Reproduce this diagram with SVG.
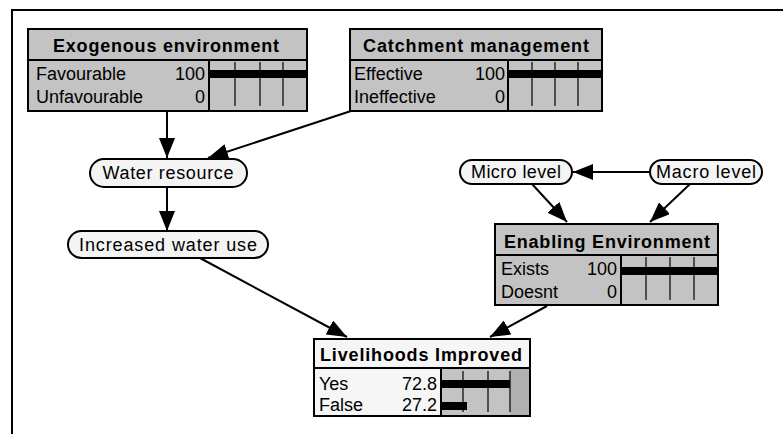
<svg xmlns="http://www.w3.org/2000/svg" width="783" height="434" viewBox="0 0 783 434">
<style>
.box{fill:#c3c3c3;stroke:#000;stroke-width:2}
.wbox{fill:#f6f6f6;stroke:#000;stroke-width:2}
.pill{fill:#f4f4f4;stroke:#000;stroke-width:2}
.hd{font-family:"Liberation Sans",Arial,sans-serif;font-size:18px;font-weight:bold;fill:#000}
.tx{font-family:"Liberation Sans",Arial,sans-serif;font-size:18px;fill:#000}
.bar{fill:#000}
.tick{stroke:#000;stroke-width:1.2}
.sep{stroke:#000;stroke-width:2}
.edge{stroke:#000;stroke-width:2;fill:none;marker-end:url(#ah)}
</style>
<defs>
<marker id="ah" viewBox="0 0 20 16" refX="20" refY="8" markerWidth="20" markerHeight="16" markerUnits="userSpaceOnUse" orient="auto">
<path d="M0,0 L20,8 L0,16 Z" fill="#000"/>
</marker>
</defs>
<rect width="783" height="434" fill="#fff"/>
<path d="M12,434 V10 H783" fill="none" stroke="#000" stroke-width="2"/>

<g id="connectors">
<line class="edge" x1="167" y1="111" x2="167" y2="158"/>
<line class="edge" x1="351" y1="111" x2="208" y2="158"/>
<line class="edge" x1="167" y1="187" x2="167" y2="231"/>
<line class="edge" x1="200" y1="258" x2="347" y2="337"/>
<line class="edge" x1="650" y1="172" x2="573" y2="172"/>
<line class="edge" x1="532" y1="184" x2="567" y2="222"/>
<line class="edge" x1="690" y1="184" x2="650" y2="222"/>
<line class="edge" x1="547" y1="306" x2="490" y2="337"/>
</g>

<g id="exogenous">
<rect class="box" x="28" y="29" width="279" height="82"/>
<line class="sep" x1="28" y1="60" x2="307" y2="60"/>
<line class="sep" x1="209" y1="60" x2="209" y2="111"/>
<text class="hd" x="166" y="52" text-anchor="middle" textLength="226" lengthAdjust="spacing">Exogenous environment</text>
<text class="tx" x="36" y="80">Favourable</text>
<text class="tx" x="36" y="103">Unfavourable</text>
<text class="tx" x="205" y="80" text-anchor="end">100</text>
<text class="tx" x="205" y="103" text-anchor="end">0</text>
<rect class="bar" x="210" y="70" width="97" height="8"/>
<line class="tick" x1="235" y1="62" x2="235" y2="106"/>
<line class="tick" x1="260" y1="62" x2="260" y2="106"/>
<line class="tick" x1="283" y1="62" x2="283" y2="106"/>
</g>

<g id="catchment">
<rect class="box" x="350" y="29" width="252" height="82"/>
<line class="sep" x1="350" y1="60" x2="602" y2="60"/>
<line class="sep" x1="508" y1="60" x2="508" y2="111"/>
<text class="hd" x="476" y="52" text-anchor="middle" textLength="226" lengthAdjust="spacing">Catchment management</text>
<text class="tx" x="354" y="80">Effective</text>
<text class="tx" x="354" y="103">Ineffective</text>
<text class="tx" x="505" y="80" text-anchor="end">100</text>
<text class="tx" x="505" y="103" text-anchor="end">0</text>
<rect class="bar" x="509" y="70" width="93" height="8"/>
<line class="tick" x1="532" y1="62" x2="532" y2="106"/>
<line class="tick" x1="555" y1="62" x2="555" y2="106"/>
<line class="tick" x1="578" y1="62" x2="578" y2="106"/>
</g>

<g id="water-resource">
<rect class="pill" x="90" y="159" width="157" height="28" rx="14"/>
<text class="tx" x="168" y="179" text-anchor="middle" textLength="131" lengthAdjust="spacing">Water resource</text>
</g>

<g id="increased-water-use">
<rect class="pill" x="68" y="231" width="200" height="27" rx="13.5"/>
<text class="tx" x="168" y="251" text-anchor="middle" textLength="178" lengthAdjust="spacing">Increased water use</text>
</g>

<g id="micro-level">
<rect class="pill" x="460" y="160" width="112" height="24" rx="12"/>
<text class="tx" x="516" y="178" text-anchor="middle" textLength="90" lengthAdjust="spacing">Micro level</text>
</g>

<g id="macro-level">
<rect class="pill" x="650" y="160" width="112" height="24" rx="12"/>
<text class="tx" x="706" y="178" text-anchor="middle" textLength="100" lengthAdjust="spacing">Macro level</text>
</g>

<g id="enabling-environment">
<rect class="box" x="495" y="224" width="223" height="81"/>
<line class="sep" x1="495" y1="255" x2="718" y2="255"/>
<line class="sep" x1="621" y1="255" x2="621" y2="305"/>
<text class="hd" x="607" y="248" text-anchor="middle" textLength="206" lengthAdjust="spacing">Enabling Environment</text>
<text class="tx" x="501" y="275">Exists</text>
<text class="tx" x="501" y="298">Doesnt</text>
<text class="tx" x="617" y="275" text-anchor="end">100</text>
<text class="tx" x="617" y="298" text-anchor="end">0</text>
<rect class="bar" x="622" y="267" width="96" height="8"/>
<line class="tick" x1="646" y1="257" x2="646" y2="300"/>
<line class="tick" x1="670" y1="257" x2="670" y2="300"/>
<line class="tick" x1="694" y1="257" x2="694" y2="300"/>
</g>

<g id="livelihoods-improved">
<rect class="wbox" x="314" y="339" width="216" height="77"/>
<line class="sep" x1="314" y1="368" x2="530" y2="368"/>
<rect x="441" y="369" width="88" height="46" fill="#c3c3c3"/>
<rect x="510" y="369" width="19" height="46" fill="#b0b0b0"/>
<line class="sep" x1="441" y1="368" x2="441" y2="416"/>
<text class="hd" x="421" y="361" text-anchor="middle" textLength="202" lengthAdjust="spacing">Livelihoods Improved</text>
<text class="tx" x="319" y="390">Yes</text>
<text class="tx" x="319" y="411">False</text>
<text class="tx" x="437" y="390" text-anchor="end">72.8</text>
<text class="tx" x="437" y="411" text-anchor="end">27.2</text>
<rect class="bar" x="442" y="380" width="68" height="8"/>
<rect class="bar" x="442" y="402" width="25" height="8"/>
<line class="tick" x1="463" y1="371" x2="463" y2="412"/>
<line class="tick" x1="488" y1="371" x2="488" y2="412"/>
<line class="tick" x1="510" y1="371" x2="510" y2="412"/>
</g>
</svg>
